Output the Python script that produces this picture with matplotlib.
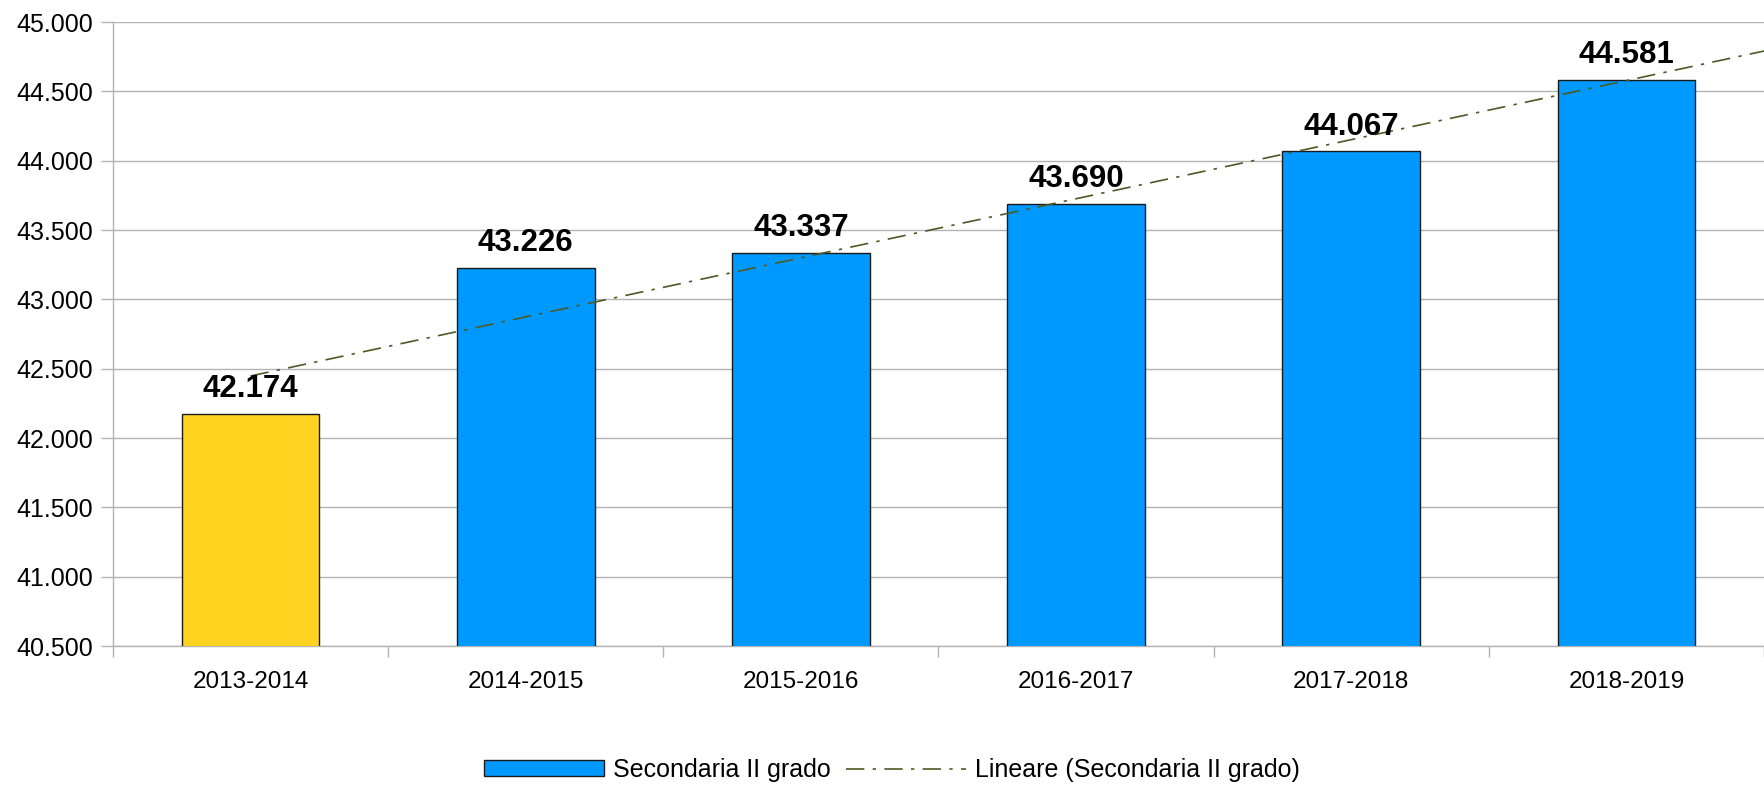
import numpy as np
import matplotlib
matplotlib.use("Agg")
import matplotlib.pyplot as plt
from matplotlib.patches import Patch
from matplotlib.ticker import FixedLocator, FuncFormatter

plt.rcParams["font.family"] = ["Liberation Sans", "DejaVu Sans"]

years = ["2013-2014", "2014-2015", "2015-2016", "2016-2017", "2017-2018", "2018-2019"]
students = [42174, 43226, 43337, 43690, 44067, 44581]
bar_colors = ["#FFD320", "#0099FF", "#0099FF", "#0099FF", "#0099FF", "#0099FF"]
series_name = "Secondaria II grado"


def it_fmt(v, _pos=None):
    return f"{v:,.0f}".replace(",", ".")


fig = plt.figure(figsize=(17.64, 7.87), dpi=100)
ax = fig.add_axes([113 / 1764, 1 - 646 / 787, 1 - 113 / 1764, (646 - 22) / 787])

x = np.arange(len(years))
ax.bar(x, students, width=0.5, color=bar_colors, edgecolor="#1a1a1a",
       linewidth=1.0, zorder=3)

# linear trendline, like the spreadsheet one
k, b = np.polyfit(x + 1, students, 1)
xt = np.array([0, len(years) - 0.5])
trend, = ax.plot(xt, k * (xt + 1) + b, color="#4d5a26", lw=1.2, dashes=(11, 5, 2, 5),
                 zorder=4)

for xi, v in zip(x, students):
    ax.annotate(it_fmt(v), (xi, v), xytext=(0, 7), textcoords="offset points",
                ha="center", va="bottom", fontsize=22.5, fontweight="bold", zorder=5)

ax.set_xlim(-0.5, len(years) - 0.5)
ax.set_ylim(40500, 45000)
ax.yaxis.set_major_locator(FixedLocator(np.arange(40500, 45001, 500)))
ax.yaxis.set_major_formatter(FuncFormatter(it_fmt))
ax.set_xticks(x)
ax.set_xticklabels(years)
ax.xaxis.set_minor_locator(FixedLocator(np.arange(-0.5, len(years), 1.0)))
ax.tick_params(axis="x", which="major", length=0, pad=18, labelsize=17.5)
ax.tick_params(axis="x", which="minor", length=8, width=1, color="#b3b3b3")
ax.tick_params(axis="y", length=8.5, width=1, color="#b3b3b3", pad=6, labelsize=18)

ax.grid(axis="y", color="#b3b3b3", lw=1, zorder=0)
for s in ["top", "right"]:
    ax.spines[s].set_visible(False)
for s in ["left", "bottom"]:
    ax.spines[s].set_color("#b3b3b3")
    ax.spines[s].set_linewidth(1)

handles = [Patch(facecolor="#0099FF", edgecolor="#1a1a1a", linewidth=1.0), trend]
labels = [series_name, f"Lineare ({series_name})"]
fig.legend(handles, labels, loc="center", bbox_to_anchor=(892 / 1764, 1 - 770 / 787),
           ncol=2, frameon=False, fontsize=18, handlelength=4.8, handleheight=0.6,
           handletextpad=0.36, columnspacing=0.64)

fig.savefig("out.png", dpi=100)
